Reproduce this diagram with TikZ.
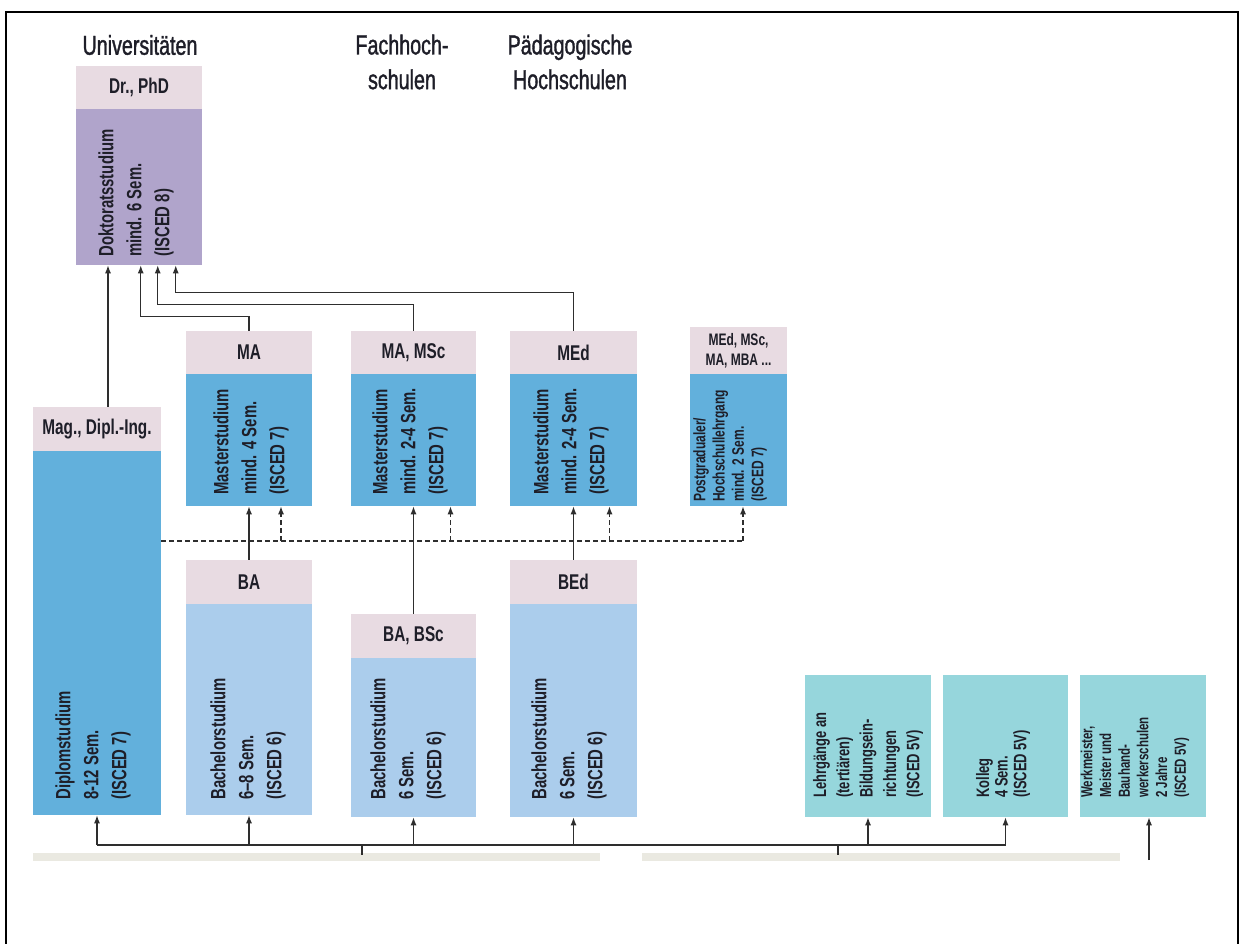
\documentclass[tikz,border=0pt]{standalone}
\usepackage{fontspec}
\setmainfont{Liberation Sans}[FakeStretch=0.72]
\newfontfamily\headfont{Liberation Sans}[FakeStretch=0.72, FakeBold=1.3]
\usetikzlibrary{arrows.meta,fit}
\newdimen\pxu \pxu=0.75pt
\definecolor{ink}{HTML}{1E1E28}
\definecolor{wire}{HTML}{2E2E2E}
\definecolor{pinkH}{HTML}{E8DBE2}
\definecolor{purp}{HTML}{B0A4CB}
\definecolor{mblue}{HTML}{62B0DC}
\definecolor{lblue}{HTML}{ABCDEC}
\definecolor{teal}{HTML}{96D6DC}
\definecolor{barg}{HTML}{EAE9E1}
\tikzset{
  head/.style={inner sep=0pt, text=ink, font=\headfont\fontsize{20.5}{26}\selectfont},
  hdr/.style={fill=pinkH, inner sep=0pt},
  lab/.style={inner sep=0pt, text=ink, align=center, font=\bfseries\fontsize{16}{18}\selectfont},
  body/.style={inner sep=0pt},
  vtext/.style={rotate=90, anchor=west, align=left, inner sep=0pt, text=ink,
                font=\bfseries\fontsize{15.5}{21}\selectfont},
  small/.style={font=\bfseries\fontsize{12.5}{14.5}\selectfont},
  ln/.style={draw=wire, line width=1pt},
  arr/.style={ln, -{Latex[length=6pt,width=4.5pt]}},
  dln/.style={ln, dash pattern=on 3.5pt off 2.5pt},
  darr/.style={dln, -{Latex[length=6pt,width=4.5pt]}},
}
\begin{document}
\begin{tikzpicture}[x=0.75pt, y=-0.75pt]
\useasboundingbox (0,0) rectangle (1244,944);
% frame
\draw[line width=1.9pt, black] (6,944) -- (6,12) -- (1238,12) -- (1238,944);

% column headings
\node[head] (hUni) at (140,45) {Universitäten};
\node[head, align=center] (hFH) at (402,62) {Fachhoch-\\schulen};
\node[head, align=center] (hPH) at (570,62) {Pädagogische\\Hochschulen};

% doctorate
\node[hdr, fit={(76,66) (202,109)}] (drH) {};
\node[lab] (drL) at (drH.center) {Dr., PhD};
\node[body, fill=purp, fit={(76,109) (202,265)}] (drB) {};
\node[vtext] (drT) at (136,257) {Doktoratsstudium\\mind. 6 Sem.\\(ISCED 8)};

% diploma
\node[hdr, fit={(33,407) (161,451)}] (magH) {};
\node[lab] (magL) at (magH.center) {Mag., Dipl.-Ing.};
\node[body, fill=mblue, fit={(33,451) (161,815)}] (dipB) {};
\node[vtext] (dipT) at (93,800) {Diplomstudium\\8-12 Sem.\\(ISCED 7)};

% master programmes
\node[hdr, fit={(186,331) (312,374)}] (maH) {};
\node[lab] (maL) at (maH.center) {MA};
\node[body, fill=mblue, fit={(186,374) (312,506)}] (maB) {};
\node[vtext] (maT) at (251,495) {Masterstudium\\mind. 4 Sem.\\(ISCED 7)};

\node[hdr, fit={(351,331) (476,374)}] (mscH) {};
\node[lab] (mscL) at (mscH.center) {MA, MSc};
\node[body, fill=mblue, fit={(351,374) (476,506)}] (mscB) {};
\node[vtext] (mscT) at (410,495) {Masterstudium\\mind. 2-4 Sem.\\(ISCED 7)};

\node[hdr, fit={(510,331) (637,374)}] (medH) {};
\node[lab] (medL) at (medH.center) {MEd};
\node[body, fill=mblue, fit={(510,374) (637,506)}] (medB) {};
\node[vtext] (medT) at (571,495) {Masterstudium\\mind. 2-4 Sem.\\(ISCED 7)};

\node[hdr, fit={(690,327) (787,374)}] (pgH) {};
\node[lab, font=\bfseries\fontsize{12.5}{15}\selectfont] (pgL) at (pgH.center) {MEd, MSc,\\MA, MBA ...};
\node[body, fill=mblue, fit={(690,374) (787,506)}] (pgB) {};
\node[vtext, small] (pgT) at (730,502) {Postgradualer/\\Hochschullehrgang\\mind. 2 Sem.\\(ISCED 7)};

% bachelor programmes
\node[hdr, fit={(186,560) (312,604)}] (baH) {};
\node[lab] (baL) at (baH.center) {BA};
\node[body, fill=lblue, fit={(186,604) (312,815)}] (baB) {};
\node[vtext] (baT) at (248,800) {Bachelorstudium\\6--8 Sem.\\(ISCED 6)};

\node[hdr, fit={(351,614) (476,658)}] (bscH) {};
\node[lab] (bscL) at (bscH.center) {BA, BSc};
\node[body, fill=lblue, fit={(351,658) (476,817)}] (bscB) {};
\node[vtext] (bscT) at (408,800) {Bachelorstudium\\6 Sem.\\(ISCED 6)};

\node[hdr, fit={(510,560) (637,604)}] (bedH) {};
\node[lab] (bedL) at (bedH.center) {BEd};
\node[body, fill=lblue, fit={(510,604) (637,817)}] (bedB) {};
\node[vtext] (bedT) at (569,800) {Bachelorstudium\\6 Sem.\\(ISCED 6)};

% short-cycle programmes
\node[body, fill=teal, fit={(805,675) (931,817)}] (lgB) {};
\node[vtext, font=\bfseries\fontsize{13.5}{17.5}\selectfont] (lgT) at (868,798)
  {Lehrgänge an\\(tertiären)\\Bildungsein-\\richtungen\\(ISCED 5V)};
\node[body, fill=teal, fit={(943,675) (1068,817)}] (kgB) {};
\node[vtext, font=\bfseries\fontsize{13.5}{14}\selectfont] (kgT) at (1003,798)
  {Kolleg\\4 Sem.\\(ISCED 5V)};
\node[body, fill=teal, fit={(1080,675) (1206,817)}] (wmB) {};
\node[vtext, font=\bfseries\fontsize{12}{14}\selectfont] (wmT) at (1135,798)
  {Werkmeister,\\Meister und\\Bauhand-\\werkerschulen\\2 Jahre\\(ISCED 5V)};

% base bars
\node[body, fill=barg, fit={(33,853) (600,861)}] (bar1) {};
\node[body, fill=barg, fit={(642,853) (1120,861)}] (bar2) {};

% routes into the doctorate
\coordinate (magUp) at ([xshift=11\pxu]magH.north);
\draw[arr] (magUp) -- (magUp |- drB.south);
\draw[arr] (maH.north) -- ++(0,-14) -| ([xshift=65\pxu]drB.south west);
\draw[arr] (mscH.north) -- ++(0,-26) -| ([xshift=82\pxu]drB.south west);
\draw[arr] (medH.north) -- ++(0,-38) -| ([xshift=100\pxu]drB.south west);

% bachelor to master
\draw[arr] (baH.north) -- (maB.south);
\draw[arr] (bscH.north) -- (mscB.south);
\draw[arr] (bedH.north) -- (medB.south);

% optional routes (dashed)
\coordinate (dEnd) at (743,541);
\draw[dln] (dipB.east |- dEnd) -- (dEnd);
\coordinate (maD) at ([xshift=32\pxu]maB.south);
\coordinate (mscD) at ([xshift=37\pxu]mscB.south);
\coordinate (medD) at ([xshift=36\pxu]medB.south);
\draw[darr] (maD |- dEnd) -- (maD);
\draw[darr] (mscD |- dEnd) -- (mscD);
\draw[darr] (medD |- dEnd) -- (medD);
\draw[darr] (dEnd) -- (dEnd |- pgB.south);

% entry line
\coordinate (busL) at (97,845);
\draw[ln] (busL) -- (kgB.south |- busL);
\draw[arr] (busL) -- (dipB.south);
\draw[arr] (baB.south |- busL) -- (baB.south);
\draw[arr] (bscB.south |- busL) -- (bscB.south);
\draw[arr] (bedB.south |- busL) -- (bedB.south);
\draw[arr] (lgB.south |- busL) -- (lgB.south);
\draw[arr] (kgB.south |- busL) -- (kgB.south);
\coordinate (tk1) at (362,845);
\coordinate (tk2) at (838,845);
\draw[ln] (tk1) -- ++(0,10);
\draw[ln] (tk2) -- ++(0,10);
\coordinate (wmIn) at (1149,860);
\draw[arr] (wmIn) -- (wmIn |- wmB.south);
\end{tikzpicture}
\end{document}
